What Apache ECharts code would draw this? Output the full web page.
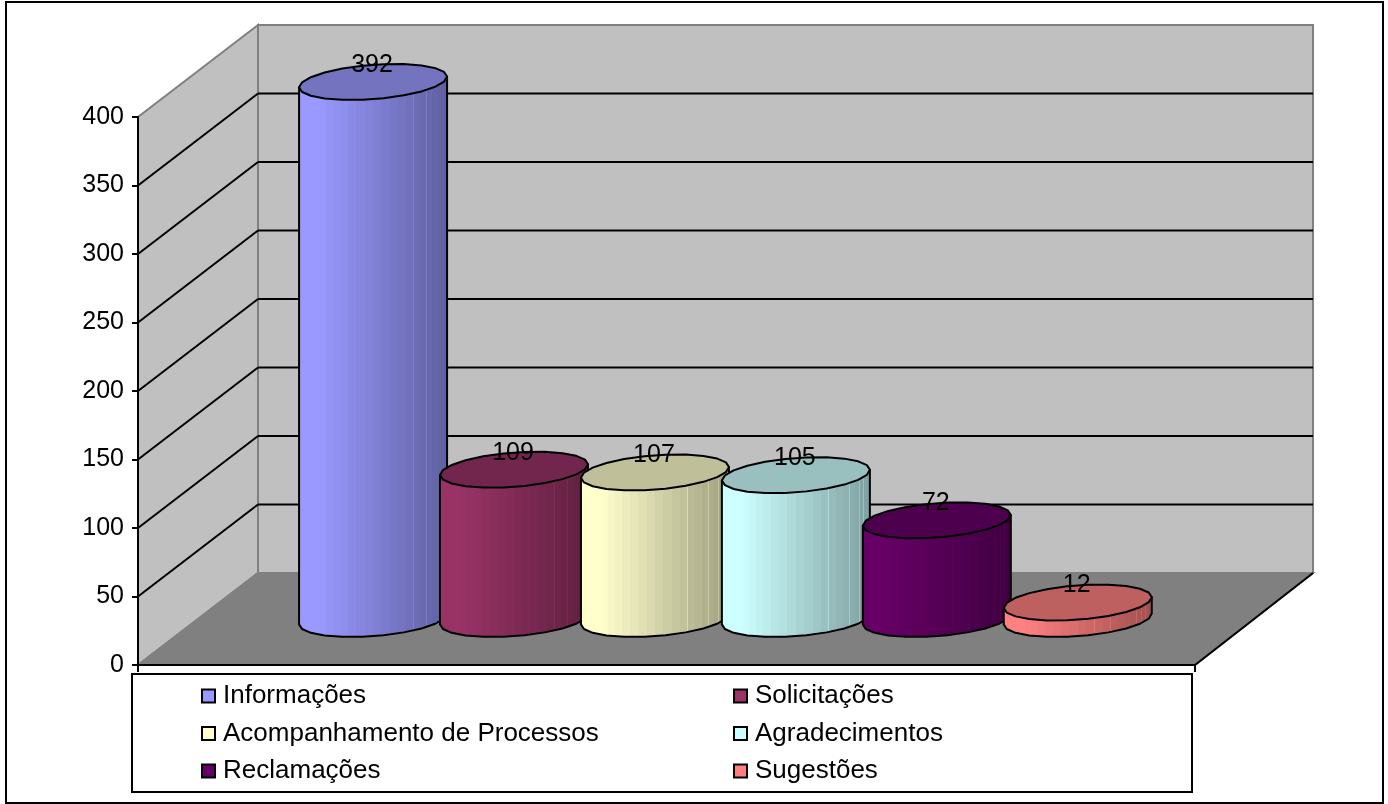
<!DOCTYPE html>
<html><head><meta charset="utf-8">
<style>html,body{margin:0;padding:0;background:#fff}#c{width:1388px;height:804px}</style>
<script src="https://cdn.jsdelivr.net/npm/echarts@6/dist/echarts.min.js"></script>
</head><body><div id="c"></div>
<script>
const categories = ['Informações','Solicitações','Acompanhamento de Processos','Agradecimentos','Reclamações','Sugestões'];
const values = [392,109,107,105,72,12];
const colors = ['#9999FF','#993366','#FFFFCC','#CCFFFF','#660066','#FF8080'];
const yTicks = [50,100,150,200,250,300,350];
const FONT = '"Liberation Sans", Arial, sans-serif';
const XMIN = -1.668, XMAX = 5.832;
const DX = 120, DY = 92, RX = 74, RY = 18, RHO = 0.3, SEG = 22;

function shade(hex, f){
  const n = parseInt(hex.slice(1),16);
  const c = [n>>16&255, n>>8&255, n&255].map(v=>Math.round(v*f));
  return 'rgb('+c.join(',')+')';
}
function sidePaint(hex){
  const stops=[], N=26;
  let prev=0;
  for(let i=1;i<=N;i++){
    const e=(1-Math.cos(Math.PI*Math.min(1,(i+2)/(N+2))))/2;
    const edge=i===N?1:e;
    const mid=(prev+edge)/2;
    const f=mid<0.14?1:1-(mid-0.14)*0.44;
    stops.push({offset:prev,color:shade(hex,f)});
    stops.push({offset:edge,color:shade(hex,f)});
    if(i<N && edge>0.6){
      stops.push({offset:edge,color:shade(hex,Math.min(1,f+0.1))});
      stops.push({offset:Math.min(1,edge+0.004),color:shade(hex,Math.min(1,f+0.1))});
      prev=Math.min(1,edge+0.004);
    } else prev=edge;
  }
  return {type:'linear',x:0,y:0,x2:1,y2:0,colorStops:stops};
}
function ell(cx,cy,t){
  const s=Math.sqrt(1-RHO*RHO);
  return [cx+RX*Math.cos(t), cy+RY*(-RHO*Math.cos(t)+s*Math.sin(t))];
}
function cylinder(color){
  return function(params,api){
    const top=api.coord([api.value(0),api.value(1)]);
    const base=api.coord([api.value(0),0]);
    const cx=top[0], cyT=top[1]-DY/2, cyB=base[1]-DY/2;
    const body=[ell(cx,cyT,Math.PI)];
    for(let i=0;i<=SEG/2;i++) body.push(ell(cx,cyB,Math.PI-i*2*Math.PI/SEG));
    body.push(ell(cx,cyT,0));
    const cap=[];
    for(let i=0;i<SEG;i++) cap.push(ell(cx,cyT,i*2*Math.PI/SEG));
    return {type:'group',children:[
      {type:'polygon',shape:{points:body},style:{fill:sidePaint(color),stroke:'#000',lineWidth:2,lineJoin:'round'}},
      {type:'polygon',shape:{points:cap},style:{fill:shade(color,0.75),stroke:'#000',lineWidth:2,lineJoin:'round'}},
      {type:'text',z2:100,style:{x:cx-1,y:cyT-RY+1,text:String(api.value(1)),fill:'#000',font:'25px '+FONT,align:'center',verticalAlign:'middle'}}
    ]};
  };
}
function wallsItem(params,api){
  const p0=api.coord([XMIN,0]), p4=api.coord([XMIN,400]), r0=api.coord([XMAX,0]);
  const b=(p)=>[p[0]+DX,p[1]-DY];
  const bgStroke={stroke:'#808080',lineWidth:2};
  const bb0=b(p0), bb4=b(p4), br0=[r0[0]+DX-2,r0[1]-DY], br4=[br0[0],bb4[1]];
  return {type:'group',children:[
    {type:'polygon',shape:{points:[bb0,br0,br4,bb4]},style:Object.assign({fill:'#C0C0C0'},bgStroke)},
    {type:'polygon',shape:{points:[p0,bb0,bb4,p4]},style:Object.assign({fill:'#C0C0C0'},bgStroke)},
    {type:'polygon',shape:{points:[p0,bb0,br0,r0]},style:Object.assign({fill:'#808080'},bgStroke)},
    {type:'line',shape:{x1:p0[0],y1:p0[1],x2:r0[0],y2:r0[1]},style:{stroke:'#000',lineWidth:2}},
    {type:'line',shape:{x1:r0[0],y1:r0[1],x2:br0[0],y2:br0[1]},style:{stroke:'#000',lineWidth:2}},
    {type:'line',shape:{x1:p0[0],y1:p0[1],x2:p0[0],y2:p0[1]+7},style:{stroke:'#000',lineWidth:2}},
    {type:'line',shape:{x1:r0[0],y1:r0[1],x2:r0[0],y2:r0[1]+7},style:{stroke:'#000',lineWidth:2}}
  ]};
}
function gridItem(params,api){
  const v=api.value(0);
  const p=api.coord([XMIN,v]), r=api.coord([XMAX,v]);
  const bx=p[0]+DX, by=p[1]-DY, ex=r[0]+DX-2;
  return {type:'group',children:[
    {type:'line',shape:{x1:p[0],y1:p[1],x2:bx,y2:by},style:{stroke:'#000',lineWidth:2}},
    {type:'line',shape:{x1:bx,y1:by,x2:ex,y2:by},style:{stroke:'#000',lineWidth:2}}
  ]};
}
const series=[
  {type:'custom',name:'_walls',silent:true,clip:false,coordinateSystem:'cartesian2d',data:[[0]],renderItem:wallsItem,encode:{x:0},z:1},
  {type:'custom',name:'_grid',silent:true,clip:false,coordinateSystem:'cartesian2d',data:yTicks.map(v=>[v]),renderItem:gridItem,encode:{y:0},z:1}
];
categories.forEach((name,i)=>{
  series.push({type:'custom',name,clip:false,coordinateSystem:'cartesian2d',
    data:[[i,values[i]]],encode:{x:0,y:1},renderItem:cylinder(colors[i]),
    itemStyle:{color:colors[i]},z:2+i});
});
function legendOf(names,left){
  return {show:true,orient:'vertical',left,top:683,padding:0,itemGap:11.5,itemWidth:13,itemHeight:13,icon:'rect',
    data:names.map(n=>({name:n,icon:'rect',itemStyle:{color:colors[categories.indexOf(n)],borderColor:'#000',borderWidth:2}})),
    selectedMode:false,textStyle:{fontFamily:FONT,fontSize:26,color:'#000',padding:[0,0,0,3]}};
}
const chart=echarts.init(document.getElementById('c'),null,{renderer:'canvas'});
chart.setOption({
  animation:false,
  backgroundColor:'#fff',
  grid:{left:138,top:117,width:1057,height:548},
  xAxis:{type:'value',min:XMIN,max:XMAX,show:false},
  yAxis:{type:'value',min:0,max:400,interval:50,z:20,
    axisLine:{show:true,onZero:false,lineStyle:{color:'#000',width:2}},
    axisTick:{show:true,length:6,lineStyle:{color:'#000',width:2}},
    splitLine:{show:false},
    axisLabel:{fontFamily:FONT,fontSize:25,color:'#000',margin:14}},
  legend:[
    legendOf(categories.filter((_,i)=>i%2===0),201),
    legendOf(categories.filter((_,i)=>i%2===1),733)
  ],
  graphic:[
    {type:'rect',z:-1,silent:true,shape:{x:6,y:2,width:1377,height:801},style:{fill:'#fff',stroke:'#000',lineWidth:2}},
    {type:'rect',z:-1,silent:true,shape:{x:132,y:674,width:1060,height:118},style:{fill:'#fff',stroke:'#000',lineWidth:2}}
  ],
  series
});
</script></body></html>
